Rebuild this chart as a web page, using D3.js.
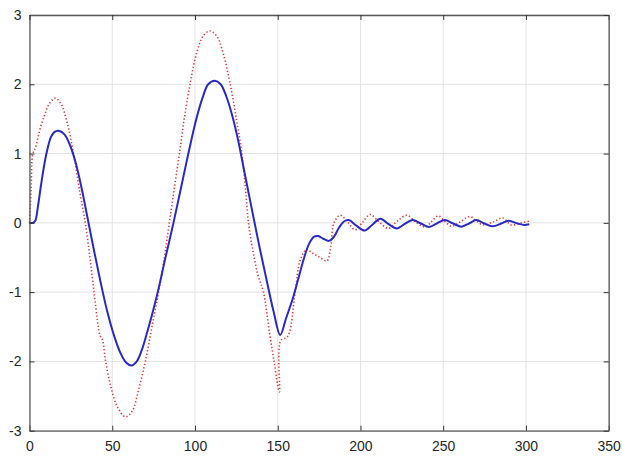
<!DOCTYPE html>
<html>
<head>
<meta charset="utf-8">
<script src="https://cdn.jsdelivr.net/npm/d3@7"></script>
<style>
  body { margin: 0; background: white; }
  svg { display: block; }
  .tick text { font-family: "Liberation Sans", Arial, sans-serif; font-size: 14px; fill: #262626; }
</style>
</head>
<body>
<svg id="chart" width="622" height="458"></svg>
<script>
// solid blue response
var blueT = [0, 2, 3.5, 5, 7, 9, 11, 13, 15, 17.5, 21, 24.5, 28, 31.5, 35, 39, 43, 47, 51, 55, 58.5, 61.5, 64.5, 67.5, 70.5, 74, 77.5, 82, 87, 91.5, 96, 100.5, 104.5, 108, 112, 115.5, 119, 122.5, 126, 130, 134.5, 139, 143.5, 147.5, 151.5, 155, 159, 162.5, 166, 169, 172, 174.5, 177.5, 181, 184, 187, 190, 193, 197.5, 202.5, 207, 212, 217, 222, 226.5, 231.5, 236.5, 241.5, 246, 251, 256, 261, 265.5, 270, 275, 280, 285, 289.5, 295, 299, 302];
var blueV = [0, 0, 0.03, 0.22, 0.55, 0.85, 1.08, 1.24, 1.31, 1.33, 1.28, 1.12, 0.86, 0.5, 0.08, -0.4, -0.86, -1.28, -1.62, -1.88, -2.02, -2.06, -2.01, -1.86, -1.63, -1.33, -1.0, -0.52, 0.0, 0.5, 1.0, 1.47, 1.8, 2.0, 2.05, 2.0, 1.82, 1.55, 1.2, 0.72, 0.18, -0.35, -0.85, -1.28, -1.62, -1.38, -1.1, -0.8, -0.5, -0.3, -0.2, -0.19, -0.23, -0.26, -0.2, -0.07, 0.02, 0.04, -0.04, -0.11, -0.03, 0.06, -0.02, -0.08, -0.02, 0.04, -0.01, -0.06, -0.01, 0.04, -0.01, -0.055, -0.01, 0.04, -0.01, -0.05, -0.01, 0.03, -0.01, -0.03, -0.02];

// dotted red response
var redT = [0, 1, 2, 3.5, 6, 9, 12, 15.5, 19, 23, 26.6, 30, 33.7, 36.5, 39, 41, 42.5, 44, 46, 49, 53, 58, 62, 66, 70, 74, 78, 81.5, 84.5, 87.5, 90.6, 93.5, 97, 101, 105, 109, 113, 117, 121.3, 125, 128.3, 130.5, 132.3, 135, 138, 141.4, 144.5, 147.8, 151, 151.8, 156, 160.5, 163.6, 167.6, 170, 172.6, 175.6, 179.7, 182, 184, 187.7, 192, 196.8, 201, 205.8, 211, 216.9, 222, 228, 233, 239, 243, 247, 251, 255, 260, 266, 270, 274, 280, 286, 291, 297, 303];
var redV = [0, 0.5, 1.0, 1.08, 1.32, 1.55, 1.72, 1.8, 1.72, 1.42, 1.0, 0.5, 0.0, -0.5, -1.0, -1.4, -1.62, -1.68, -2.0, -2.35, -2.65, -2.8, -2.72, -2.4, -2.0, -1.5, -1.0, -0.5, 0.0, 0.5, 1.0, 1.5, 2.0, 2.45, 2.7, 2.77, 2.7, 2.45, 2.0, 1.5, 1.0, 0.5, 0.0, -0.4, -0.75, -1.0, -1.5, -2.0, -2.44, -1.7, -1.64, -1.0, -0.54, -0.38, -0.42, -0.46, -0.5, -0.55, -0.35, 0.0, 0.11, 0.02, -0.1, 0.0, 0.12, 0.02, -0.08, 0.02, 0.11, 0.02, -0.06, 0.02, 0.1, 0.02, -0.05, 0.01, 0.09, 0.03, -0.03, 0.01, 0.07, -0.03, 0.0, 0.03];

var xTicks = [0, 50, 100, 150, 200, 250, 300, 350];
var yTicks = [-3, -2, -1, 0, 1, 2, 3];

var margin = { top: 15, right: 13.3, bottom: 27.3, left: 29.5 };
var width = 622 - margin.left - margin.right;
var height = 458 - margin.top - margin.bottom;

var svg = d3.select("#chart");
var g = svg.append("g").attr("transform", `translate(${margin.left},${margin.top})`);

var x = d3.scaleLinear().domain([0, 350]).range([0, width]);
var y = d3.scaleLinear().domain([-3, 3]).range([height, 0]);

// grid
g.append("g")
  .selectAll("line")
  .data(xTicks)
  .enter()
  .append("line")
  .attr("x1", (d) => x(d))
  .attr("x2", (d) => x(d))
  .attr("y1", 0)
  .attr("y2", height)
  .attr("stroke", "#e3e3e3")
  .attr("stroke-width", 1);

g.append("g")
  .selectAll("line")
  .data(yTicks)
  .enter()
  .append("line")
  .attr("x1", 0)
  .attr("x2", width)
  .attr("y1", (d) => y(d))
  .attr("y2", (d) => y(d))
  .attr("stroke", "#e3e3e3")
  .attr("stroke-width", 1);

// curves
var blueData = blueT.map((t, i) => ({ t: t, v: blueV[i] }));
var redData = redT.map((t, i) => ({ t: t, v: redV[i] }));

var line = d3
  .line()
  .x((d) => x(d.t))
  .y((d) => y(d.v))
  .curve(d3.curveCatmullRom.alpha(0.5));

g.append("path")
  .datum(redData)
  .attr("fill", "none")
  .attr("stroke", "#d83a3a")
  .attr("stroke-width", 1.6)
  .attr("stroke-dasharray", "1.3,2.2")
  .attr("d", line);

g.append("path")
  .datum(blueData)
  .attr("fill", "none")
  .attr("stroke", "#2a2ac0")
  .attr("stroke-width", 2)
  .attr("d", line);

// axes (MATLAB style: ticks inside, box on)
var axisColor = "#5a5a5a";
var fmt = (d) => String(d);

var xAxis = g.append("g")
  .attr("transform", `translate(0,${height})`)
  .call(d3.axisBottom(x).tickValues(xTicks).tickFormat(fmt).tickSizeInner(-5).tickSizeOuter(0).tickPadding(10));
var yAxis = g.append("g")
  .call(d3.axisLeft(y).tickValues(yTicks).tickFormat(fmt).tickSizeInner(-5).tickSizeOuter(0).tickPadding(8));
var xTop = g.append("g")
  .call(d3.axisTop(x).tickValues(xTicks).tickSizeInner(-5).tickSizeOuter(0).tickFormat(""));
var yRight = g.append("g")
  .attr("transform", `translate(${width},0)`)
  .call(d3.axisRight(y).tickValues(yTicks).tickSizeInner(-5).tickSizeOuter(0).tickFormat(""));

[xAxis, yAxis, xTop, yRight].forEach((a) => {
  a.select(".domain").attr("stroke", axisColor).attr("stroke-width", 1.3);
  a.selectAll(".tick line").attr("stroke", "#333").attr("stroke-width", 1);
});
</script>
</body>
</html>
